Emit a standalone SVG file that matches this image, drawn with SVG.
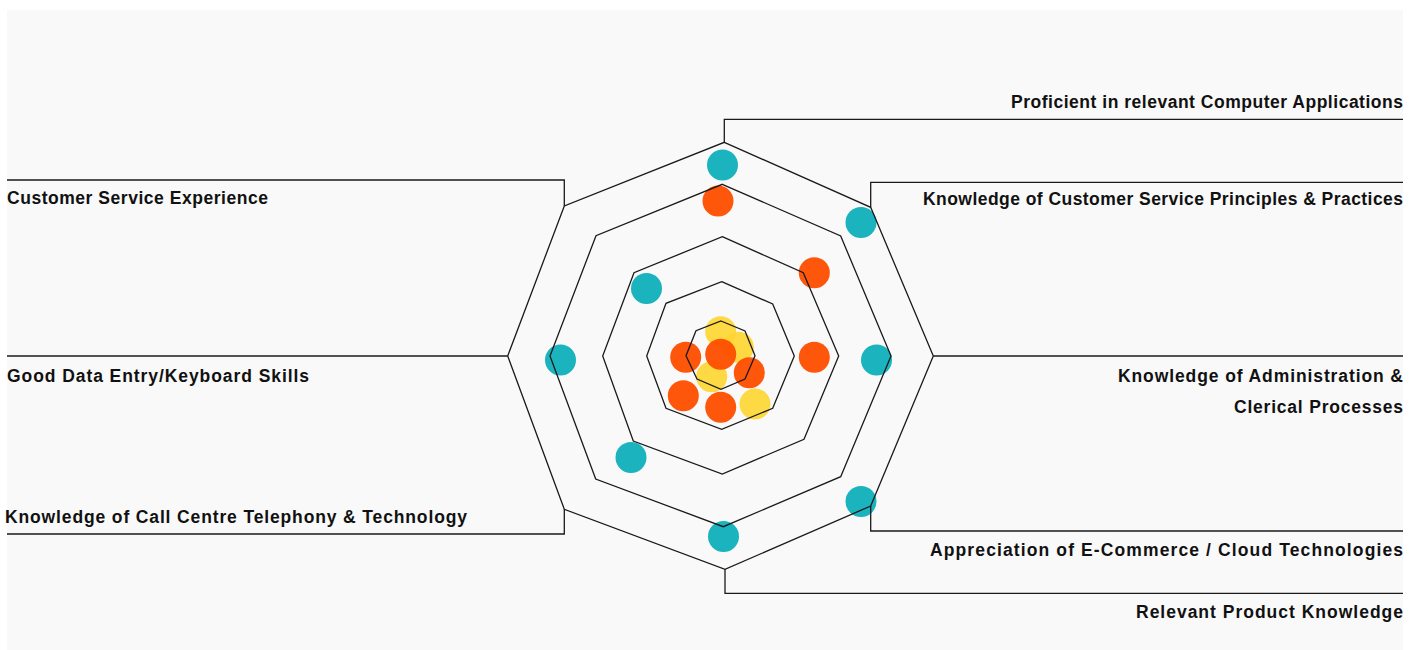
<svg xmlns="http://www.w3.org/2000/svg" width="1421" height="650" viewBox="0 0 1421 650">
<style>
.bg{fill:#f9f9f9}
.ring{fill:none;stroke:#1a1a1a;stroke-width:1.3;stroke-linejoin:miter}
.conn{fill:none;stroke:#1a1a1a;stroke-width:1.3}
.lbl{font-family:"Liberation Sans",Arial,sans-serif;font-weight:bold;font-size:17.5px;fill:#111}
.r{text-anchor:end}
.teal{fill:#1bb3bd}
.org{fill:#fe4f00;fill-opacity:0.96}
.yel{fill:#fdd634;fill-opacity:0.92}
</style>
<rect class="bg" x="7" y="10" width="1396" height="640"/>
<g id="dots">
<circle class="teal" cx="722.5" cy="165" r="15.5"/>
<circle class="teal" cx="861" cy="222.5" r="15.5"/>
<circle class="teal" cx="646.5" cy="288.5" r="15.5"/>
<circle class="teal" cx="876.5" cy="360" r="15.5"/>
<circle class="teal" cx="560.5" cy="360" r="15.5"/>
<circle class="teal" cx="631" cy="457.5" r="15.5"/>
<circle class="teal" cx="861" cy="501.5" r="15.5"/>
<circle class="teal" cx="723.5" cy="536.5" r="15.5"/>
<circle class="yel" cx="720.7" cy="331.7" r="15.5"/>
<circle class="yel" cx="738.3" cy="347.3" r="15.5"/>
<circle class="yel" cx="711.7" cy="376.7" r="15.5"/>
<circle class="yel" cx="755" cy="404" r="15.5"/>
<circle class="org" cx="718" cy="201" r="15.5"/>
<circle class="org" cx="814.3" cy="272.7" r="15.5"/>
<circle class="org" cx="814.3" cy="357.3" r="15.5"/>
<circle class="org" cx="685.7" cy="357.3" r="15.5"/>
<circle class="org" cx="720.7" cy="354.3" r="15.5"/>
<circle class="org" cx="749.3" cy="372.7" r="15.5"/>
<circle class="org" cx="683.3" cy="395.7" r="15.5"/>
<circle class="org" cx="720.7" cy="407.3" r="15.5"/>
</g>
<g id="rings">
<polygon class="ring" points="724.3,142.3 870.7,207.3 933.3,356 870.7,506 725,569.3 564.3,509.3 507.7,356 564.3,206"/>
<polygon class="ring" points="722.3,184.3 840.7,236 891,356 840.7,476.7 723.3,526.7 595.7,479 550,356 596,235.7"/>
<polygon class="ring" points="722.3,236.7 803.3,272.7 838.7,356 804,439.3 722.3,474 633.3,441 602.7,356 634,272.7"/>
<polygon class="ring" points="721.7,281.7 772.7,304 794.3,356 772.7,408.3 721.7,429.3 666,408.3 646.7,356 666,303.3"/>
<polygon class="ring" points="721,321 745,331 755,355.7 745,379 721,389.3 697,379 686,355.7 696,330.7"/>
</g>
<g id="connectors">
<polyline class="conn" points="724.3,142.3 724.3,119.3 1403,119.3"/>
<polyline class="conn" points="870.7,207.3 870.7,182.3 1403,182.3"/>
<polyline class="conn" points="933.3,356 1403,356"/>
<polyline class="conn" points="870.7,506 870.7,531 1403,531"/>
<polyline class="conn" points="725,569.3 725,593.3 1403,593.3"/>
<polyline class="conn" points="564.3,206 564.3,180 7,180"/>
<polyline class="conn" points="507.7,356 7,356"/>
<polyline class="conn" points="564.3,509.3 564.3,534 7,534"/>
</g>
<g id="label-computer-apps"><text class="lbl r" x="1403" y="108" textLength="392" lengthAdjust="spacing">Proficient in relevant Computer Applications</text></g>
<g id="label-cs-principles"><text class="lbl r" x="1403" y="205" textLength="480" lengthAdjust="spacing">Knowledge of Customer Service Principles &amp; Practices</text></g>
<g id="label-admin"><text class="lbl r" x="1403" y="382" textLength="285" lengthAdjust="spacing">Knowledge of Administration &amp;</text><text class="lbl r" x="1403" y="413" textLength="169" lengthAdjust="spacing">Clerical Processes</text></g>
<g id="label-ecommerce"><text class="lbl r" x="1403" y="556" textLength="473" lengthAdjust="spacing">Appreciation of E-Commerce / Cloud Technologies</text></g>
<g id="label-product"><text class="lbl r" x="1403" y="618" textLength="267" lengthAdjust="spacing">Relevant Product Knowledge</text></g>
<g id="label-cs-experience"><text class="lbl" x="7" y="204" textLength="261" lengthAdjust="spacing">Customer Service Experience</text></g>
<g id="label-data-entry"><text class="lbl" x="7" y="382" textLength="302" lengthAdjust="spacing">Good Data Entry/Keyboard Skills</text></g>
<g id="label-call-centre"><text class="lbl" x="5" y="523" textLength="462" lengthAdjust="spacing">Knowledge of Call Centre Telephony &amp; Technology</text></g>
</svg>
